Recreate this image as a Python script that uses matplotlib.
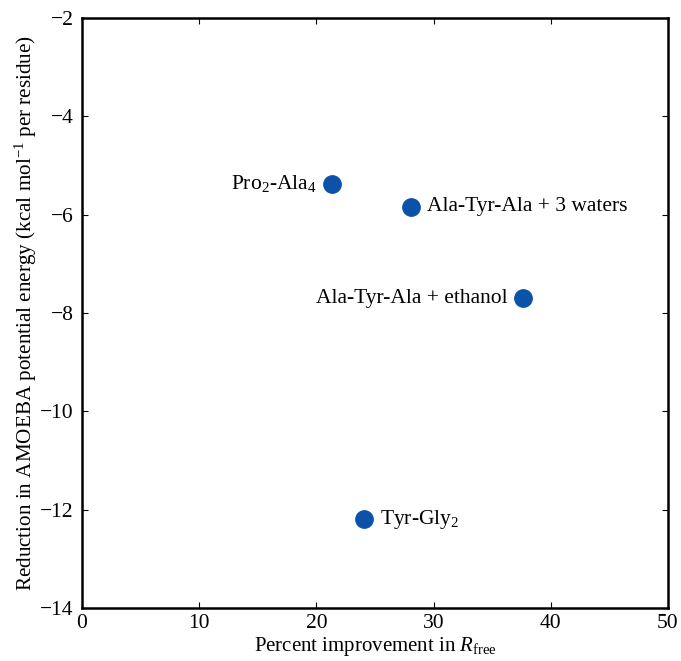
import matplotlib
matplotlib.use('Agg')
import matplotlib.pyplot as plt

# 数据
names = [r'Pro$_2$-Ala$_4$', 'Ala-Tyr-Ala + 3 waters', 'Ala-Tyr-Ala + ethanol', r'Tyr-Gly$_2$']
rfree_gain = [21.3, 28.1, 37.6, 24.1]
energy_drop = [-5.37, -5.84, -7.70, -12.20]
label_side = ['left', 'right', 'left', 'right']

plt.rcParams['font.family'] = ['Liberation Serif', 'DejaVu Serif']
plt.rcParams['mathtext.fontset'] = 'custom'
plt.rcParams['mathtext.rm'] = 'Liberation Serif'
plt.rcParams['mathtext.it'] = 'Liberation Serif:italic'

fig = plt.figure(figsize=(6.81, 6.61), dpi=100)
ax = fig.add_axes([0.1204, 0.0802, 0.8605, 0.8926])

ax.plot(rfree_gain, energy_drop, 'o', color='#0b52a8', markersize=12.5, linestyle='none')

for name, x, y, side in zip(names, rfree_gain, energy_drop, label_side):
    dx = -11 if side == 'left' else 11
    ha = 'right' if side == 'left' else 'left'
    ax.annotate(name, (x, y), xytext=(dx, 0), textcoords='offset points',
                ha=ha, va='center', fontsize=15.5)

ax.set_xlim(0, 50)
ax.set_ylim(-14, -2)
ax.set_xticks(range(0, 51, 10))
ax.set_yticks(range(-14, -1, 2))
ax.tick_params(direction='in', length=4, width=0.8, top=True, right=True,
               labelsize=15.5)
ax.tick_params(axis='y', pad=6)
ax.tick_params(axis='x', pad=4)
for s in ax.spines.values():
    s.set_linewidth(1.8)

ax.set_xlabel(r'Percent improvement in $R_{\mathrm{free}}$', fontsize=15, labelpad=2)
ax.set_ylabel(r'Reduction in AMOEBA potential energy (kcal mol$^{-1}$ per residue)',
              fontsize=15.2, labelpad=1)

plt.savefig('out.png', dpi=100)
plt.close()
